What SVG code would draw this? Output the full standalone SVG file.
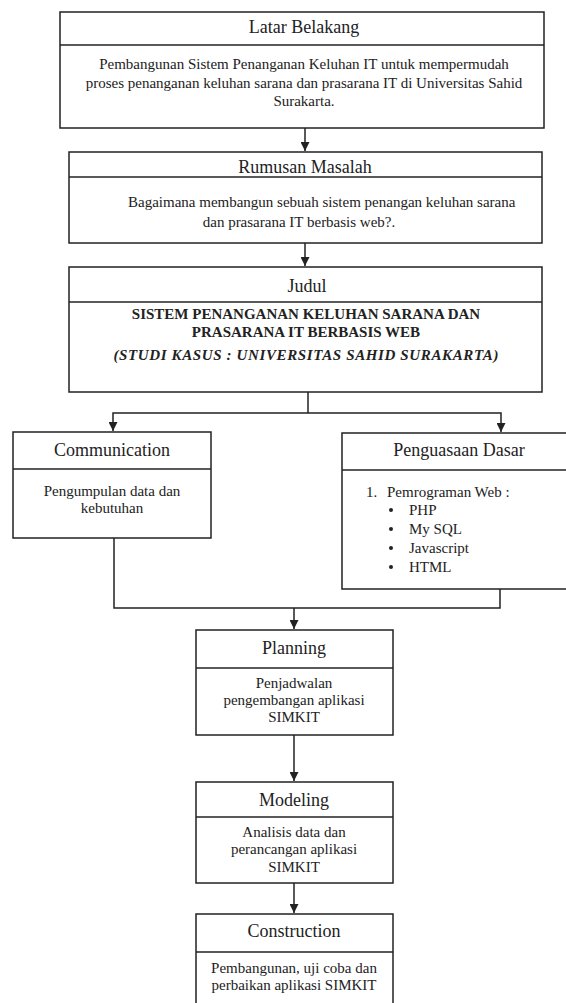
<svg xmlns="http://www.w3.org/2000/svg" width="566" height="1003" viewBox="0 0 566 1003">
<defs>
<style>
.box{fill:#fff;stroke:#222;stroke-width:1.5}
.div{stroke:#222;stroke-width:1.5}
.t{font-family:"Liberation Serif","Times New Roman",serif;font-size:18px;fill:#222;text-anchor:middle}
.b{font-family:"Liberation Serif","Times New Roman",serif;font-size:15px;fill:#222;text-anchor:middle}
.bs{font-family:"Liberation Serif","Times New Roman",serif;font-size:15px;fill:#222}
.bold{font-weight:bold}
.conn{fill:none;stroke:#222;stroke-width:1.5}
</style>
<marker id="arr" viewBox="0 0 10 10" refX="10" refY="5" markerWidth="6" markerHeight="6" markerUnits="strokeWidth" orient="auto">
<path d="M0,0 L10,5 L0,10 z" fill="#222"/>
</marker>
</defs>
<rect width="566" height="1003" fill="#fff"/>

<g id="connectors">
<path class="conn" d="M305,128 V151" marker-end="url(#arr)"/>
<path class="conn" d="M305,243 V266" marker-end="url(#arr)"/>
<path class="conn" d="M308,392 V413"/>
<path class="conn" d="M308,413 H113 V431" marker-end="url(#arr)"/>
<path class="conn" d="M308,413 H501 V432" marker-end="url(#arr)"/>
<path class="conn" d="M114,538 V608 H500 V589"/>
<path class="conn" d="M294,608 V629" marker-end="url(#arr)"/>
<path class="conn" d="M294,735 V781" marker-end="url(#arr)"/>
<path class="conn" d="M294,883 V913" marker-end="url(#arr)"/>
</g>

<g id="latar-belakang">
<rect class="box" x="60" y="12" width="484" height="116"/>
<line class="div" x1="60" y1="45" x2="544" y2="45"/>
<text class="t" x="304" y="33">Latar Belakang</text>
<text class="b" x="304" y="69">Pembangunan Sistem Penanganan Keluhan IT untuk mempermudah</text>
<text class="b" x="304" y="88">proses penanganan keluhan sarana dan prasarana IT di Universitas Sahid</text>
<text class="b" x="304" y="106">Surakarta.</text>
</g>

<g id="rumusan-masalah">
<rect class="box" x="69" y="152" width="473" height="91"/>
<line class="div" x1="69" y1="177" x2="542" y2="177"/>
<text class="t" x="305" y="173">Rumusan Masalah</text>
<text class="bs" x="128" y="207">Bagaimana membangun sebuah sistem penangan keluhan sarana</text>
<text class="b" x="299" y="227">dan prasarana IT berbasis web?.</text>
</g>

<g id="judul">
<rect class="box" x="69" y="267" width="473" height="125"/>
<line class="div" x1="69" y1="302" x2="542" y2="302"/>
<text class="t" x="307" y="292">Judul</text>
<text class="b bold" x="306" y="319">SISTEM PENANGANAN KELUHAN SARANA DAN</text>
<text class="b bold" x="306" y="337">PRASARANA IT BERBASIS WEB</text>
<text class="b bold" x="306" y="360" font-style="italic" textLength="385" lengthAdjust="spacing">(STUDI KASUS : UNIVERSITAS SAHID SURAKARTA)</text>
</g>

<g id="communication">
<rect class="box" x="13" y="432" width="198" height="106"/>
<line class="div" x1="13" y1="469" x2="211" y2="469"/>
<text class="t" x="112" y="456">Communication</text>
<text class="b" x="112" y="496">Pengumpulan data dan</text>
<text class="b" x="112" y="513">kebutuhan</text>
</g>

<g id="penguasaan-dasar">
<rect class="box" x="342" y="433" width="240" height="156"/>
<line class="div" x1="342" y1="470" x2="582" y2="470"/>
<text class="t" x="459" y="456">Penguasaan Dasar</text>
<text class="bs" x="366" y="497">1.</text>
<text class="bs" x="387" y="497">Pemrograman Web :</text>
<circle cx="391" cy="510" r="2" fill="#222"/>
<text class="bs" x="409" y="515">PHP</text>
<circle cx="391" cy="529" r="2" fill="#222"/>
<text class="bs" x="409" y="534">My SQL</text>
<circle cx="391" cy="548" r="2" fill="#222"/>
<text class="bs" x="409" y="553">Javascript</text>
<circle cx="391" cy="567" r="2" fill="#222"/>
<text class="bs" x="409" y="572">HTML</text>
</g>

<g id="planning">
<rect class="box" x="196" y="630" width="197" height="105"/>
<line class="div" x1="196" y1="668" x2="393" y2="668"/>
<text class="t" x="294" y="654">Planning</text>
<text class="b" x="294" y="688">Penjadwalan</text>
<text class="b" x="294" y="705">pengembangan aplikasi</text>
<text class="b" x="294" y="722">SIMKIT</text>
</g>

<g id="modeling">
<rect class="box" x="196" y="782" width="197" height="101"/>
<line class="div" x1="196" y1="817" x2="393" y2="817"/>
<text class="t" x="294" y="806">Modeling</text>
<text class="b" x="294" y="837">Analisis data dan</text>
<text class="b" x="294" y="854">perancangan aplikasi</text>
<text class="b" x="294" y="872">SIMKIT</text>
</g>

<g id="construction">
<rect class="box" x="196" y="914" width="197" height="100"/>
<line class="div" x1="196" y1="952" x2="393" y2="952"/>
<text class="t" x="294" y="937">Construction</text>
<text class="b" x="294" y="973">Pembangunan, uji coba dan</text>
<text class="b" x="294" y="990">perbaikan aplikasi SIMKIT</text>
</g>
</svg>
